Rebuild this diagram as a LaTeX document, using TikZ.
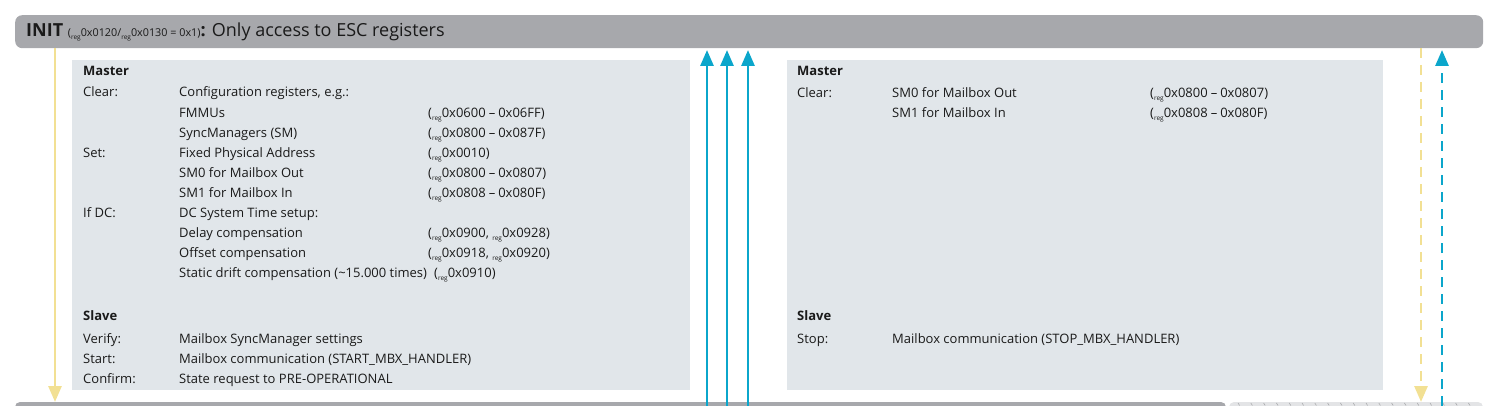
\documentclass[tikz,border=0pt]{standalone}
\usepackage{fontspec}
\setmainfont{Open Sans}
\usetikzlibrary{arrows.meta}
\definecolor{hdr}{HTML}{A7A8AC}
\definecolor{boxbg}{HTML}{E1E6EA}
\definecolor{eblue}{HTML}{0BA6CB}
\definecolor{eyel}{HTML}{F2E093}
\definecolor{txt}{HTML}{1A1A1A}
\definecolor{hatchbg}{HTML}{E3E4E6}
\definecolor{hatchln}{HTML}{A9AAAD}
\newcommand\rg{\raisebox{-0.4ex}{\fontsize{6.5}{6.5}\selectfont reg}}
\newcommand\rng[2]{(\rg#1\hspace{3pt}–\hspace{3pt}#2)}
\begin{document}
\begin{tikzpicture}[x=1pt,y=-1pt,
  txtn/.style={anchor=base west, inner sep=0pt, font=\fontsize{13}{15}\selectfont, text=txt},
  hd/.style={txtn, font=\fontsize{13}{15}\selectfont\bfseries},
  panel/.style={fill=boxbg, draw=none},
  bar/.style={fill=hdr, draw=none, rounded corners=7pt},
  blue arr/.style={draw=eblue, line width=2.8pt, -{Triangle[width=13pt,length=16pt]}},
  yel arr/.style={draw=eyel, line width=2.8pt, -{Triangle[width=13pt,length=16pt]}},
  dash pat/.style={dash pattern=on 10pt off 7pt}
]
\useasboundingbox (0,0) rectangle (1493,406);
% bottom bars
\fill[hdr, rounded corners=5pt] (15,402) rectangle (1226,430);
\fill[hatchbg, rounded corners=5pt] (1229,402) rectangle (1483,430);
\foreach \i in {0,...,18} {\draw[hatchln, line width=0.6pt] (1238+12.8*\i,403) -- ++(1.6,2.5);}
% header
\node[bar, minimum width=1468pt, minimum height=33pt, anchor=north west, inner sep=0pt] (init) at (15,15) {};
\node[anchor=base west, inner sep=0pt, text=txt] (inittxt) at (26,37)
  {\fontsize{18}{20}\selectfont\textbf{INIT} {\fontsize{10.8}{12}\selectfont(\rg0x0120/\rg0x0130 = 0x1)}\textbf{:} Only access to ESC registers};
% panels
\path[panel] (72,60) rectangle (690,390);
\path[panel] (787,60) rectangle (1383,390);
% left panel text
\node[hd] (lm) at (83,75.5) {Master};
\node[txtn] (lc1) at (83,96.5) {Clear:};
\node[txtn] (lc2) at (179,96.5) {Configuration registers, e.g.:};
\node[txtn] (l3a) at (179,117.5) {FMMUs};
\node[txtn] (l3b) at (428,117.5) {\rng{0x0600}{0x06FF}};
\node[txtn] (l4a) at (179,137.5) {SyncManagers (SM)};
\node[txtn] (l4b) at (428,137.5) {\rng{0x0800}{0x087F}};
\node[txtn] (l5) at (83,157.5) {Set:};
\node[txtn] (l5a) at (179,157.5) {Fixed Physical Address};
\node[txtn] (l5b) at (428,157.5) {(\rg0x0010)};
\node[txtn] (l6a) at (179,177.5) {SM0 for Mailbox Out};
\node[txtn] (l6b) at (428,177.5) {\rng{0x0800}{0x0807}};
\node[txtn] (l7a) at (179,197.5) {SM1 for Mailbox In};
\node[txtn] (l7b) at (428,197.5) {\rng{0x0808}{0x080F}};
\node[txtn] (l8) at (83,217.5) {If DC:};
\node[txtn] (l8a) at (179,217.5) {DC System Time setup:};
\node[txtn] (l9a) at (179,237.5) {Delay compensation};
\node[txtn] (l9b) at (428,237.5) {(\rg0x0900, \rg0x0928)};
\node[txtn] (l10a) at (179,257.5) {Offset compensation};
\node[txtn] (l10b) at (428,257.5) {(\rg0x0918, \rg0x0920)};
\node[txtn] (l11a) at (179,277.5) {Static drift compensation (\textasciitilde15.000 times)};
\node[txtn] (l11b) at (434,277.5) {(\rg0x0910)};
\node[hd] (ls) at (83,320.5) {Slave};
\node[txtn] (l12) at (83,343.5) {Verify:};
\node[txtn] (l12a) at (179,343.5) {Mailbox SyncManager settings};
\node[txtn] (l13) at (83,363.5) {Start:};
\node[txtn] (l13a) at (179,363.5) {Mailbox communication (START\_MBX\_HANDLER)};
\node[txtn] (l14) at (83,383.5) {Confirm:};
\node[txtn] (l14a) at (179,383.5) {State request to PRE-OPERATIONAL};
% right panel text
\node[hd] (rm) at (797,75.5) {Master};
\node[txtn] (r1) at (797,97.5) {Clear:};
\node[txtn] (r1a) at (892,97.5) {SM0 for Mailbox Out};
\node[txtn] (r1b) at (1150,97.5) {\rng{0x0800}{0x0807}};
\node[txtn] (r2a) at (892,117.5) {SM1 for Mailbox In};
\node[txtn] (r2b) at (1150,117.5) {\rng{0x0808}{0x080F}};
\node[hd] (rs) at (797,320.5) {Slave};
\node[txtn] (r3) at (797,343.5) {Stop:};
\node[txtn] (r3a) at (892,343.5) {Mailbox communication (STOP\_MBX\_HANDLER)};
% connector end points
\coordinate (y1t) at (55,48);   \coordinate (y1b) at (55,402);
\coordinate (b1b) at (707,406); \coordinate (b1t) at (707,50);
\coordinate (b2b) at (727,406); \coordinate (b2t) at (727,50);
\coordinate (b3b) at (748,406); \coordinate (b3t) at (748,50);
\coordinate (y2t) at (1421,48); \coordinate (y2b) at (1421,402);
\coordinate (b4b) at (1442,406); \coordinate (b4t) at (1442,50);
% connectors
\draw[yel arr] (y1t) -- (y1b);
\draw[blue arr] (b1b) -- (b1t);
\draw[blue arr] (b2b) -- (b2t);
\draw[blue arr] (b3b) -- (b3t);
\draw[yel arr, dash pat] (y2t) -- (y2b);
\draw[blue arr, dash pat] (b4b) -- (b4t);
\end{tikzpicture}
\end{document}
